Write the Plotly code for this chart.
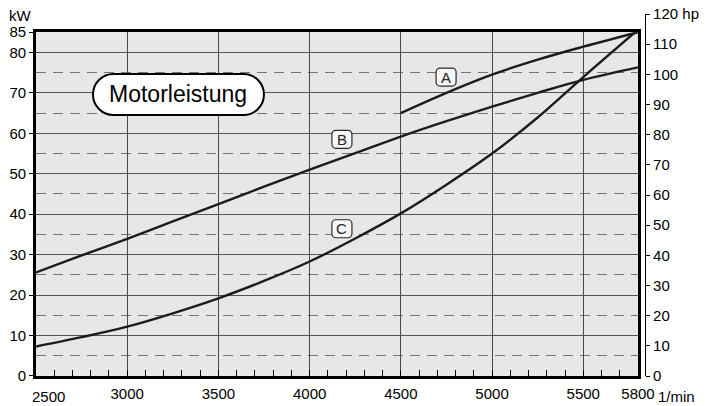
import plotly.graph_objects as go

# ---- data ----
rpm_A = [4500, 4750, 5000, 5250, 5500, 5800]
kw_A = [65.0, 70.0, 74.5, 78.2, 81.4, 85.0]

rpm_B = [2500, 2750, 3000, 3250, 3500, 3750, 4000, 4250, 4500, 4750, 5000, 5250, 5500, 5800]
kw_B = [25.6, 29.8, 33.9, 38.2, 42.5, 46.8, 51.0, 55.1, 59.2, 63.0, 66.6, 70.0, 73.2, 76.3]

rpm_C = [2500, 2750, 3000, 3250, 3500, 3750, 4000, 4250, 4500, 4750, 5000, 5250, 5500, 5800]
kw_C = [7.3, 9.6, 12.2, 15.5, 19.2, 23.5, 28.3, 34.0, 40.2, 47.3, 55.0, 63.9, 73.9, 85.6]

x_ticks = [3000, 3500, 4000, 4500, 5000, 5500, 5800]
x_ticktext = ["3000", "3500", "4000", "4500", "5000", "5500", "5800"]
kw_ticks = [0, 10, 20, 30, 40, 50, 60, 70, 80, 85]
hp_ticks = [0, 10, 20, 30, 40, 50, 60, 70, 80, 90, 100, 110, 120]
hp_ticktext = ["0", "10", "20", "30", "40", "50", "60", "70", "80", "90", "100", "110", "120 hp"]

curve_labels = ["A", "B", "C"]
curve_label_rpm = [4748, 4177, 4177]
curve_label_kw = [73.9, 58.5, 36.4]

title_text = "Motorleistung"
title_rpm = 3281
title_kw = 69.6

KW_PER_HP = 0.745699872
X_RANGE = [2500, 5800]
KW_MAX = 85
HP_MAX = 120

FONT = "Liberation Sans, Arial, Helvetica, sans-serif"
INK = "#1c1c1c"

x_dom_top = 602 / 609
y_dom_top = KW_MAX / (HP_MAX * KW_PER_HP)

fig = go.Figure()

for xs, ys in [(rpm_A, kw_A), (rpm_B, kw_B), (rpm_C, kw_C)]:
    fig.add_trace(go.Scatter(x=xs, y=ys, mode="lines",
                             line=dict(color=INK, width=2.4, shape="spline", smoothing=1.0),
                             showlegend=False, hoverinfo="x+y"))

# invisible trace to host the hp axis
fig.add_trace(go.Scatter(x=[None], y=[None], xaxis="x2", yaxis="y2",
                         showlegend=False, hoverinfo="skip"))

# background of the plot area
fig.add_shape(type="rect", xref="x domain", yref="y domain", x0=0, x1=1, y0=0, y1=1,
              fillcolor="#e6e7e9", line=dict(width=0), layer="below")

# title pill
hw, hh = 85.5, 20.5
k = 0.5523 * hh
r = hh
sx = hw - r
pill = (f"M {-sx},{-hh} L {sx},{-hh} C {sx + k},{-hh} {hw},{-k} {hw},0 "
        f"C {hw},{k} {sx + k},{hh} {sx},{hh} L {-sx},{hh} "
        f"C {-sx - k},{hh} {-hw},{k} {-hw},0 C {-hw},{-k} {-sx - k},{-hh} {-sx},{-hh} Z")
fig.add_shape(type="path", xref="x", yref="y", xsizemode="pixel", ysizemode="pixel",
              xanchor=title_rpm, yanchor=title_kw, path=pill,
              fillcolor="white", line=dict(color="black", width=2), layer="above")
fig.add_annotation(x=title_rpm, y=title_kw, xref="x", yref="y", text=title_text,
                   showarrow=False, font=dict(family=FONT, size=23, color="black"))

# small rounded label boxes
bw, bh, br = 10, 9, 4
kb = 0.5523 * br
box = (f"M {-bw + br},{-bh} L {bw - br},{-bh} C {bw - br + kb},{-bh} {bw},{-bh + br - kb} {bw},{-bh + br} "
       f"L {bw},{bh - br} C {bw},{bh - br + kb} {bw - br + kb},{bh} {bw - br},{bh} "
       f"L {-bw + br},{bh} C {-bw + br - kb},{bh} {-bw},{bh - br + kb} {-bw},{bh - br} "
       f"L {-bw},{-bh + br} C {-bw},{-bh + br - kb} {-bw + br - kb},{-bh} {-bw + br},{-bh} Z")
for lab, xr, yk in zip(curve_labels, curve_label_rpm, curve_label_kw):
    fig.add_shape(type="path", xref="x", yref="y", xsizemode="pixel", ysizemode="pixel",
                  xanchor=xr, yanchor=yk, path=box,
                  fillcolor="#f7f7f7", line=dict(color="#2a2a2a", width=1.2), layer="above")
    fig.add_annotation(x=xr, y=yk, xref="x", yref="y", text=lab, showarrow=False,
                       font=dict(family=FONT, size=15, color="#222222"))

# axis unit labels and shifted first x label
fig.add_annotation(xref="x domain", yref="y domain", x=0, y=1, text="kW", showarrow=False,
                   xanchor="center", yanchor="middle", xshift=-16, yshift=17,
                   font=dict(family=FONT, size=15, color="black"))
fig.add_annotation(xref="x", yref="y domain", x=5800, y=0, text="1/min", showarrow=False,
                   xanchor="left", yanchor="middle", xshift=18, yshift=-20,
                   font=dict(family=FONT, size=15, color="black"))
fig.add_annotation(xref="x", yref="y domain", x=2500, y=0, text="2500", showarrow=False,
                   xanchor="center", yanchor="middle", xshift=12, yshift=-20,
                   font=dict(family=FONT, size=15, color="black"))

fig.update_layout(
    width=705, height=406,
    margin=dict(l=36, r=60, t=14, b=30),
    paper_bgcolor="white",
    plot_bgcolor="rgba(0,0,0,0)",
    font=dict(family=FONT, size=15, color="black"),
    xaxis=dict(domain=[0, x_dom_top], range=X_RANGE, tickmode="array",
               tickvals=x_ticks, ticktext=x_ticktext, automargin=False,
               showgrid=True, gridcolor="#4a4a4a", gridwidth=1,
               showline=True, linecolor="black", linewidth=2.6, mirror=True,
               ticks="inside", ticklen=6, tickcolor="black", tickwidth=1.3,
               ticklabelstandoff=2,
               minor=dict(tick0=2500, dtick=100, ticks="inside", ticklen=6,
                          tickcolor="black", tickwidth=1.3, showgrid=False),
               zeroline=False, anchor="y", fixedrange=True),
    yaxis=dict(domain=[0, y_dom_top], range=[0, KW_MAX], tickmode="array",
               tickvals=kw_ticks, showgrid=True, gridcolor="#555555", gridwidth=1,
               automargin=False,
               minor=dict(tick0=0, dtick=5, showgrid=True, griddash="10px,7px",
                          gridcolor="#747474", gridwidth=1.2, ticks=""),
               showline=True, linecolor="black", linewidth=2.6, mirror=True,
               ticks="outside", ticklen=4, tickcolor="black", tickwidth=1.3,
               zeroline=False, anchor="x", fixedrange=True),
    xaxis2=dict(domain=[0, x_dom_top], range=X_RANGE, visible=False, anchor="y2",
                showgrid=False, fixedrange=True, automargin=False),
    yaxis2=dict(domain=[0, 1], range=[0, HP_MAX], tickmode="array",
                tickvals=hp_ticks, ticktext=hp_ticktext, side="right",
                anchor="free", position=1, showgrid=False, zeroline=False,
                automargin=False,
                showline=True, linecolor="black", linewidth=1.2,
                ticks="outside", ticklen=4, tickcolor="black", tickwidth=1.2,
                fixedrange=True),
)

fig.write_html("out.html", config={"displayModeBar": False},
               post_script="document.body.style.margin='0px';")
